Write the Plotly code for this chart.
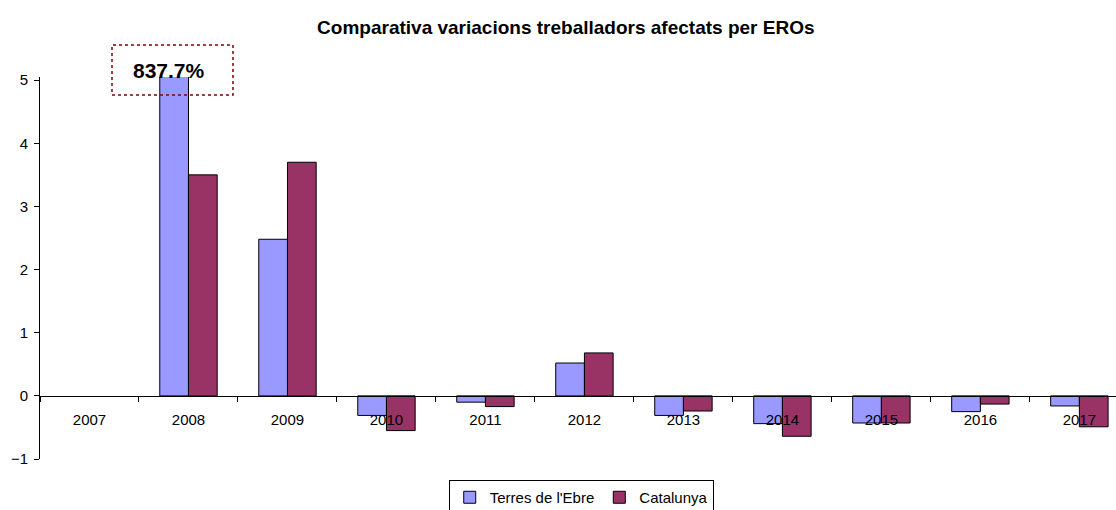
import plotly.graph_objects as go

years = ["2007", "2008", "2009", "2010", "2011", "2012", "2013", "2014", "2015", "2016", "2017"]
terres = [None, 8.377, 2.48, -0.31, -0.10, 0.52, -0.31, -0.44, -0.43, -0.25, -0.16]
catalunya = [None, 3.50, 3.70, -0.55, -0.17, 0.68, -0.24, -0.64, -0.43, -0.13, -0.49]
y_ticks = [-1, 0, 1, 2, 3, 4, 5]
label_text = "837.7%"

FONT = "Liberation Sans, Arial, sans-serif"
y_range = [-1, 5.05]
x_range = [-0.5, 10.37]

fig = go.Figure()
fig.add_trace(go.Bar(x=years, y=terres, name="Terres de l'Ebre",
                     marker=dict(color="#9999FF", line=dict(color="#000000", width=1))))
fig.add_trace(go.Bar(x=years, y=catalunya, name="Catalunya",
                     marker=dict(color="#993366", line=dict(color="#000000", width=1))))

zero_pos = (0 - y_range[0]) / (y_range[1] - y_range[0])

fig.update_layout(
    width=1116, height=510,
    margin=dict(l=40, r=0, t=77, b=51, autoexpand=False),
    paper_bgcolor="white", plot_bgcolor="white",
    barmode="group", bargap=0.42, bargroupgap=0,
    font=dict(family=FONT, size=15, color="#000000"),
    title=dict(text="<b>Comparativa variacions treballadors afectats per EROs</b>",
               x=0.507, xanchor="center", y=0.947, yanchor="middle",
               font=dict(family=FONT, size=19, color="#000000")),
    showlegend=True,
    legend=dict(orientation="h", x=0.503, xanchor="center", y=-0.055, yanchor="top",
                bordercolor="#000000", borderwidth=1, bgcolor="white",
                font=dict(family=FONT, size=15), itemwidth=30,
                tracegroupgap=0),
    xaxis=dict(type="category", range=x_range, anchor="free", position=zero_pos,
               showline=True, linecolor="#000000", linewidth=1, automargin=False,
               ticks="outside", tickson="boundaries", ticklen=5, tickcolor="#000000",
               showgrid=False, zeroline=False, ticklabelstandoff=10,
               tickfont=dict(family=FONT, size=15)),
    yaxis=dict(range=y_range, tickvals=y_ticks, showline=True, linecolor="#000000",
               linewidth=1, ticks="outside", ticklen=5, tickcolor="#000000", automargin=False,
               showgrid=False, zeroline=False, ticklabelstandoff=3,
               tickfont=dict(family=FONT, size=15)),
)

fig.add_shape(type="rect", xref="paper", yref="paper",
              x0=(112 - 40) / 1076, x1=(233 - 40) / 1076,
              y0=(459 - 95) / 382, y1=(459 - 45) / 382,
              line=dict(color="#800000", width=1.5, dash="dot"), fillcolor="rgba(0,0,0,0)")
fig.add_annotation(xref="paper", yref="paper", x=(169 - 40) / 1076, y=(459 - 70) / 382,
                   text="<b>" + label_text + "</b>", showarrow=False,
                   font=dict(family=FONT, size=21, color="#000000"),
                   xanchor="center", yanchor="middle")

fig.write_html("out.html", config={"displayModeBar": False},
               post_script="document.body.style.margin='0';")
